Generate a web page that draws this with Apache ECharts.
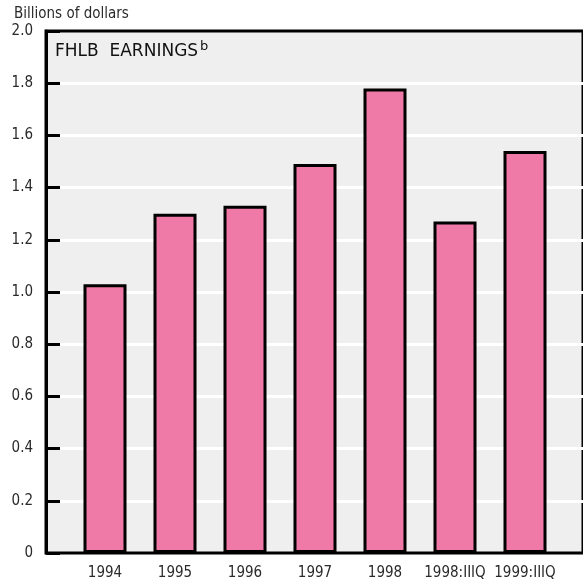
<!DOCTYPE html>
<html>
<head>
<meta charset="utf-8">
<script src="https://cdn.jsdelivr.net/npm/echarts@6/dist/echarts.min.js"></script>
<style>html,body{margin:0;padding:0;background:#fff}#c{width:583px;height:582px}</style>
</head>
<body>
<div id="c"></div>
<script>
var categories = ['1994','1995','1996','1997','1998','1998:IIIQ','1999:IIIQ'];
var earnings = [1.03, 1.30, 1.33, 1.49, 1.78, 1.27, 1.54];
var yTicks = [0, 0.2, 0.4, 0.6, 0.8, 1.0, 1.2, 1.4, 1.6, 1.8, 2.0];
var unitLabel = 'Billions of dollars';
var panelTitle = 'FHLB  EARNINGS';
var panelNote = 'b';

var narrow = '"Liberation Sans Narrow", "DejaVu Sans Condensed", "Liberation Sans", sans-serif';
var wide = '"DejaVu Sans", "Liberation Sans", Arial, sans-serif';
var chart = echarts.init(document.getElementById('c'), null, {renderer: 'canvas'});
chart.setOption({
  animation: false,
  backgroundColor: '#fff',
  title: [
    {text: unitLabel, left: 14, top: 7, padding: 0, textStyle: {fontFamily: narrow, fontSize: 15, fontWeight: 'normal', color: '#2a2a2a'}},
    {text: panelTitle + '{sup|' + panelNote + '}', left: 55, top: 40, padding: 0,
     textStyle: {fontFamily: wide, fontSize: 17, fontWeight: 'normal', color: '#111',
       rich: {sup: {fontSize: 13, verticalAlign: 'top', padding: [0,0,10,2], color: '#111', fontFamily: wide}}}}
  ],
  grid: [
    {left: 46, right: -20, top: 31, bottom: 29, show: true, backgroundColor: '#efefef', borderColor: '#000', borderWidth: 3, z: 0},
    {left: 70, right: 23, top: 31, bottom: 29}
  ],
  xAxis: [
    {gridIndex: 0, type: 'value', min: 0, max: 1, show: false},
    {gridIndex: 1, type: 'category', data: categories,
     axisLine: {show: false}, axisTick: {show: false},
     axisLabel: {fontFamily: narrow, fontSize: 15, color: '#2a2a2a', margin: 13, interval: 0}}
  ],
  yAxis: [
    {gridIndex: 0, type: 'value', min: 0, max: 2, interval: 0.2,
     axisLine: {show: true, lineStyle: {color: '#000', width: 3}},
     axisTick: {show: true, inside: true, length: 14, lineStyle: {color: '#000', width: 3}},
     splitLine: {show: true, showMinLine: false, showMaxLine: false, lineStyle: {color: '#fff', width: 3}},
     axisLabel: {fontFamily: narrow, fontSize: 15, color: '#2a2a2a', margin: 13,
       formatter: function (v) { var t = yTicks.find(function (x) { return Math.abs(x - v) < 1e-9; }); return t === 0 ? '0' : (t !== undefined ? t.toFixed(1) : ''); }}},
    {gridIndex: 1, type: 'value', min: 0, max: 2, show: false}
  ],
  series: [
    {type: 'bar', xAxisIndex: 1, yAxisIndex: 1, data: earnings, barWidth: 43,
     itemStyle: {color: '#f07aa7', borderColor: '#000', borderWidth: 3}, z: 5}
  ]
});
</script>
</body>
</html>
